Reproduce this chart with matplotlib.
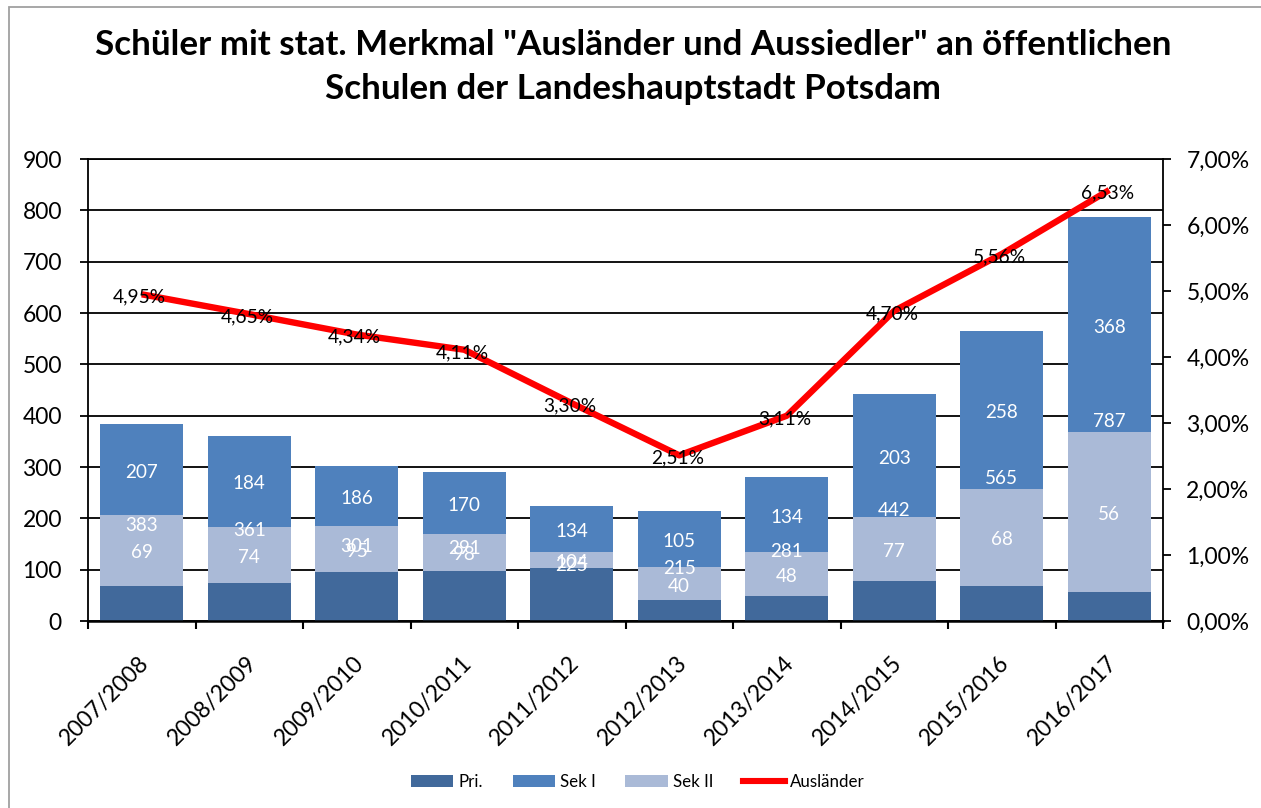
import numpy as np
import matplotlib
matplotlib.use("Agg")
import matplotlib.pyplot as plt
from matplotlib.patches import Rectangle, Patch
from matplotlib.lines import Line2D
from matplotlib.transforms import ScaledTranslation

plt.rcParams['font.family'] = ['Lato', 'DejaVu Sans']

# ---- data ----
categories = ['2007/2008', '2008/2009', '2009/2010', '2010/2011', '2011/2012',
              '2012/2013', '2013/2014', '2014/2015', '2015/2016', '2016/2017']
pri = [69, 74, 95, 98, 104, 40, 48, 77, 68, 56]
sek1 = [207, 184, 186, 170, 134, 105, 134, 203, 258, 368]
total = [383, 361, 301, 291, 225, 215, 281, 442, 565, 787]
auslaender = [4.95, 4.65, 4.34, 4.11, 3.30, 2.51, 3.11, 4.70, 5.56, 6.53]

title_lines = ['Schüler mit stat. Merkmal "Ausländer und Aussiedler" an öffentlichen',
               'Schulen der Landeshauptstadt Potsdam']

c_pri = '#41699B'
c_sek1 = '#4F81BD'
c_sek2 = '#AABAD7'
c_line = '#FF0000'

W, H = 1261, 808
fig = plt.figure(figsize=(W / 100, H / 100), dpi=100)
fig.patch.set_facecolor('white')

# outer chart frame
fig.add_artist(Rectangle((9 / W, -0.05), 1.2, 1 - 7 / H + 0.05, transform=fig.transFigure,
                         fill=False, edgecolor='#A0A0A0', linewidth=1.3))

ax = fig.add_axes([88 / W, 1 - 621 / H, (1163 - 88) / W, (621 - 159) / H])
x = np.arange(len(categories))
pri_a = np.array(pri)
sek1_a = np.array(sek1)
tot_a = np.array(total)
bw = 0.77

b_pri = ax.bar(x, pri_a, bw, color=c_pri, zorder=2)
b_mid = ax.bar(x, sek1_a - pri_a, bw, bottom=pri_a, color=c_sek2, zorder=2)
b_top = ax.bar(x, tot_a - sek1_a, bw, bottom=sek1_a, color=c_sek1, zorder=2)

lab_kw = dict(color='white', fontsize=13.6, ha='center', va='center', zorder=3)
for i in range(len(x)):
    ax.text(x[i], (sek1_a[i] + tot_a[i]) / 2 - 5, str(sek1[i]), **lab_kw)
    ax.text(x[i], tot_a[i] / 2 - 5, str(total[i]), **lab_kw)
    ax.text(x[i], (pri_a[i] + sek1_a[i]) / 2 - 5, str(pri[i]), **lab_kw)

ax.set_xlim(-0.5, len(categories) - 0.5)
ax.set_ylim(0, 900)
ax.set_yticks(np.arange(0, 901, 100))
ax.yaxis.grid(True, color='black', linewidth=1.3, zorder=0)
ax.set_axisbelow(True)
for s in ['left', 'right', 'top']:
    ax.spines[s].set_linewidth(1.3)
    ax.spines[s].set_color('black')
ax.spines['bottom'].set_linewidth(1.8)
ax.tick_params(axis='y', which='major', direction='out', length=5.8, width=1.3,
               labelsize=16.5, pad=13)

ax.set_xticks(x)
ax.set_xticklabels(categories, rotation=45, ha='right', va='center',
                   rotation_mode='anchor', fontsize=16.5)
ax.tick_params(axis='x', which='major', length=0, pad=28)
ax.set_xticks(np.arange(-0.5, len(categories), 1), minor=True)
ax.tick_params(axis='x', which='minor', direction='out', length=5.8, width=1.5)
for lab in ax.get_xticklabels():
    lab.set_transform(lab.get_transform() + ScaledTranslation(3 / 72, 0, fig.dpi_scale_trans))

ax2 = ax.twinx()
ax2.set_ylim(0, 7)
ax2.set_yticks(np.arange(0, 7.01, 1))
ax2.set_yticklabels([f"{v:.2f}%".replace('.', ',') for v in np.arange(0, 7.01, 1)])
ax2.tick_params(axis='y', direction='out', length=5.8, width=1.3, labelsize=16.5, pad=11)
for s in ax2.spines.values():
    s.set_visible(False)
ax2.plot(x, auslaender, color=c_line, linewidth=4.6, solid_capstyle='butt', zorder=3)
for xi, v in zip(x, auslaender):
    ax2.annotate(f"{v:.2f}%".replace('.', ','), (xi, v), xytext=(-1.5, -2),
                 textcoords='offset points', ha='center', va='center',
                 fontsize=13.8, color='black', zorder=4)

# title
for txt, yb in zip(title_lines, [55, 99]):
    fig.text(633 / W, 1 - yb / H, txt, ha='center', va='baseline',
             fontsize=25.2, fontweight='bold', color='black')

# legend
handles = [Patch(facecolor=c_pri, edgecolor='none'),
           Patch(facecolor=c_sek1, edgecolor='none'),
           Patch(facecolor=c_sek2, edgecolor='none'),
           Line2D([], [], color=c_line, linewidth=4.4)]
fig.legend(handles, ['Pri.', 'Sek I', 'Sek II', 'Ausländer'], loc='center',
           bbox_to_anchor=(638 / W, 1 - 782 / H), ncol=4, frameon=False,
           fontsize=12.2, handlelength=2.5, handleheight=0.7, handletextpad=0.3,
           columnspacing=1.75)

fig.savefig('out.png', dpi=100, facecolor='white')
